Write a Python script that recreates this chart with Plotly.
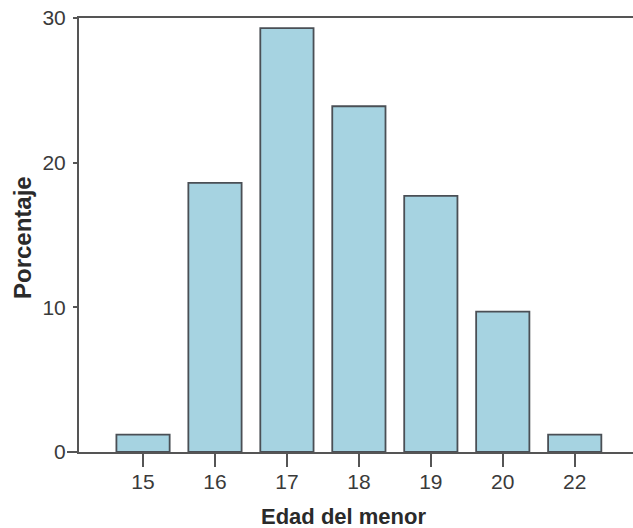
import plotly.graph_objects as go

categories = ["15", "16", "17", "18", "19", "20", "22"]
percentages = [1.2, 18.6, 29.3, 23.9, 17.7, 9.7, 1.2]
y_ticks = [0, 10, 20, 30]

fig = go.Figure(go.Bar(
    x=categories, y=percentages,
    width=0.74,
    marker=dict(color="#a6d3e1", line=dict(color="#4a4f55", width=1.8)),
))

fig.update_layout(
    width=633, height=528,
    margin=dict(l=79, r=0, t=18, b=76, autoexpand=False),
    plot_bgcolor="white", paper_bgcolor="white",
    showlegend=False,
    font=dict(family="Liberation Sans, Arial, sans-serif", color="#3a3a3a"),
)
fig.update_xaxes(
    type="category", range=[-0.89, 6.81],
    showline=True, linecolor="#555555", linewidth=2, mirror=True,
    ticks="outside", ticklen=13, tickwidth=2, tickcolor="#555555",
    tickfont=dict(size=21, color="#3a3a3a"), ticklabelstandoff=-3,
    showgrid=False, automargin=False,
)
fig.update_yaxes(
    range=[0, 30], tickvals=y_ticks,
    showline=True, linecolor="#555555", linewidth=2,
    ticks="outside", ticklen=4, tickwidth=2, tickcolor="#555555",
    tickfont=dict(size=21, color="#3a3a3a"), ticklabelstandoff=3,
    showgrid=False, zeroline=False, automargin=False,
)
# x axis line extends slightly left of the y axis
fig.add_shape(type="line", xref="paper", yref="paper",
              x0=-12/554, x1=0, y0=0, y1=0,
              line=dict(color="#555555", width=2))
fig.add_annotation(text="<b>Edad del menor</b>", xref="paper", yref="paper",
                   x=(343-79)/554, y=-(516-452)/434, xanchor="center", yanchor="middle",
                   showarrow=False, font=dict(size=22, color="#2a2a2a"))
fig.add_annotation(text="<b>Porcentaje</b>", xref="paper", yref="paper",
                   x=-(79-22)/554, y=(452-238)/434, xanchor="center", yanchor="middle",
                   textangle=-90, showarrow=False, font=dict(size=24, color="#2a2a2a"))

fig.write_html("out.html", config={"displayModeBar": False},
               post_script="document.body.style.margin='0';document.body.style.overflow='hidden';")
